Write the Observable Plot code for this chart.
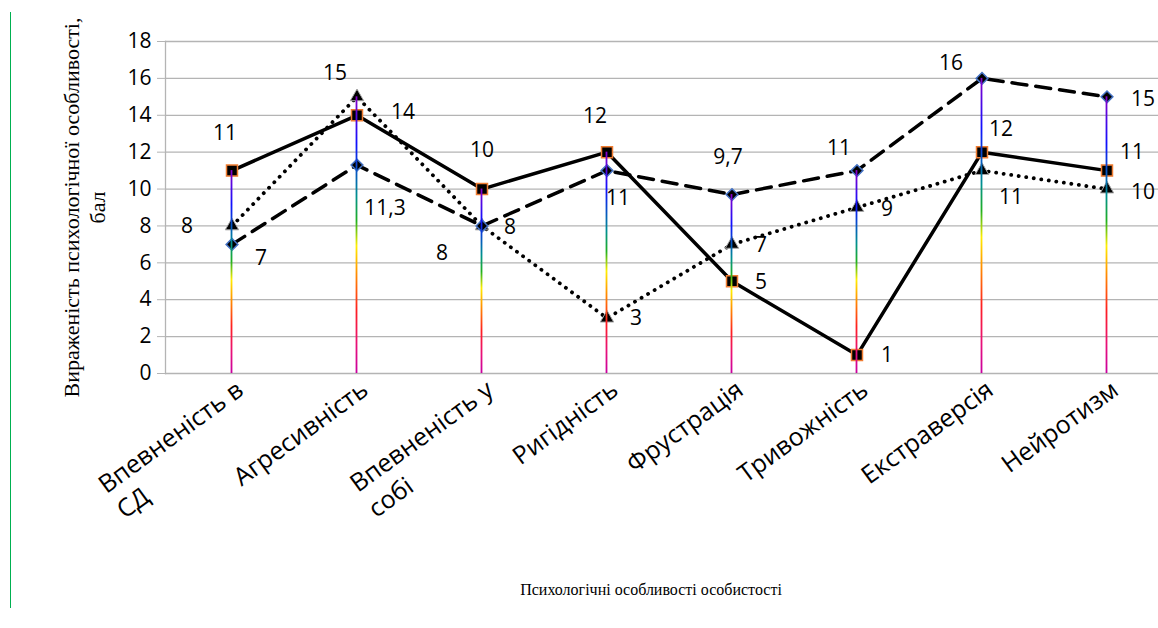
<!DOCTYPE html>
<html><head><meta charset="utf-8">
<script src="https://cdn.jsdelivr.net/npm/d3@7"></script>
<script src="https://cdn.jsdelivr.net/npm/@observablehq/plot@0.6"></script>
<style>
html,body{margin:0;padding:0;background:#fff;overflow:hidden;}
#wrap{position:relative;width:1158px;height:628px;}
#border{position:absolute;left:10px;top:12px;width:0;height:596px;border-left:1.5px solid #00b050;}
#chart{position:absolute;left:0;top:0;}
</style></head><body>
<div id="wrap"><div id="chart"></div><div id="border"></div></div>
<script>
const categories = ["Впевненість в СД","Агресивність","Впевненість у собі","Ригідність","Фрустрація","Тривожність","Екстраверсія","Нейротизм"];
const tickLabels = ["Впевненість в\nСД","Агресивність","Впевненість у\nсобі","Ригідність","Фрустрація","Тривожність","Екстраверсія","Нейротизм"];
const solidValues  = [11, 14, 10, 12, 5, 1, 12, 11];
const dashedValues = [7, 11.3, 8, 11, 9.7, 11, 16, 15];
const dottedValues = [8, 15, 8, 3, 7, 9, 11, 10];
const yTicks = [0, 2, 4, 6, 8, 10, 12, 14, 16, 18];
const yTitle = "Вираженість психологічної особливості,\nбал";
const xTitle = "Психологічні особливості особистості";

// label placement (pixel offsets from each point), style only
const solidOff  = [[-7,-37],[46,-3],[0,-39],[-12,-36],[29,1],[30,0],[19,-23],[25,-18]];
const dashedOff = [[29,14],[28,43],[28,1],[11,28],[-4,-37],[-18,-22],[-31,-15],[36,2]];
const dottedOff = [[-45,0],[-22,-24],[-40,27],[29,0],[29,1],[30,2],[29,27],[36,3]];

const rows = categories.map((c, i) => ({
  c, solid: solidValues[i], dashed: dashedValues[i], dotted: dottedValues[i],
  top: Math.max(solidValues[i], dashedValues[i], dottedValues[i])
}));
const fmt = v => String(v).replace(".", ",");

const stops = [[0,"#8a00c8"],[0.17,"#1010ff"],[0.36,"#009090"],[0.45,"#20b020"],[0.54,"#ffee00"],[0.64,"#ff9000"],[0.77,"#ff2020"],[0.9,"#e8107a"],[1,"#c800a0"]];
const defs = () => {
  const d = d3.create("svg:defs");
  const g = d.append("linearGradient").attr("id","rainbow").attr("x1","0").attr("x2","0").attr("y1","0").attr("y2","1");
  stops.forEach(([o,c]) => g.append("stop").attr("offset",o).attr("stop-color",c));
  return d.node();
};

const labelMarks = [];
[["solid", solidOff], ["dashed", dashedOff], ["dotted", dottedOff]].forEach(([key, off]) => {
  rows.forEach((r, i) => {
    labelMarks.push(Plot.text([r], {x: "c", y: key, text: d => fmt(d[key]), dx: off[i][0], dy: off[i][1], fill: "black"}));
  });
});

const plot = Plot.plot({
  width: 1158,
  height: 628,
  marginLeft: 165,
  marginRight: 0,
  marginTop: 41,
  marginBottom: 255,
  style: {fontFamily: "'Open Sans', sans-serif", fontSize: "21px", background: "transparent", color: "black"},
  x: {type: "band", domain: categories, range: [165, 1172], padding: 0},
  y: {domain: [0, 18]},
  marks: [
    defs,
    Plot.ruleY(yTicks, {stroke: "#b4b4b4", strokeWidth: 1.3}),
    Plot.frame({anchor: "left", stroke: "#b4b4b4", strokeWidth: 1.3}),
    Plot.axisY({ticks: yTicks, tickSize: 8, tickPadding: 6, stroke: "#b4b4b4", strokeOpacity: 1, label: null, fill: "black"}),
    Plot.axisX({tickSize: 0, tickRotate: -36, tickPadding: 2, label: null, lineAnchor: "top", lineHeight: 1.25, fontSize: 25,
      tickFormat: d => tickLabels[categories.indexOf(d)]}),
    Plot.lineY(rows, {x: "c", y: "dotted", stroke: "black", strokeWidth: 3.8, strokeDasharray: "0.1 7.5", strokeLinecap: "round"}),
    Plot.lineY(rows, {x: "c", y: "dashed", stroke: "black", strokeWidth: 3.5, strokeDasharray: "15 9"}),
    Plot.lineY(rows, {x: "c", y: "solid", stroke: "black", strokeWidth: 3.5}),
    Plot.dot(rows, {x: "c", y: "dotted", symbol: "triangle", r: 5, fill: "black", stroke: "#a8a8a8", strokeWidth: 1}),
    Plot.dot(rows, {x: "c", y: "dashed", symbol: "diamond2", r: 5.3, fill: "black", stroke: "#4472c4", strokeWidth: 1.5}),
    Plot.dot(rows, {x: "c", y: "solid", symbol: "square", r: 6.2, fill: "black", stroke: "#f07d32", strokeWidth: 1.5}),
    Plot.barY(rows, {x: "c", y: "top", fill: "url(#rainbow)", insetLeft: 61.6, insetRight: 61.6}),
    ...labelMarks,
    Plot.text([yTitle], {frameAnchor: "left", textAnchor: "middle", rotate: -90, dx: -82, lineHeight: 1.18, fontFamily: "'Liberation Serif', serif", fontSize: 22, fill: "black"}),
    Plot.text([xTitle], {frameAnchor: "bottom", dx: -11, dy: 221, fontFamily: "'Liberation Serif', serif", fontSize: 16, fill: "black"})
  ]
});
document.getElementById("chart").append(plot);
plot.querySelectorAll('g[aria-label="x-axis tick label"] text').forEach(t => {
  const spans = t.querySelectorAll("tspan");
  if (spans.length > 1) {
    const w = spans[0].getComputedTextLength();
    t.setAttribute("text-anchor", "start");
    spans.forEach(s => s.setAttribute("x", -w));
  }
});
</script>
</body></html>
